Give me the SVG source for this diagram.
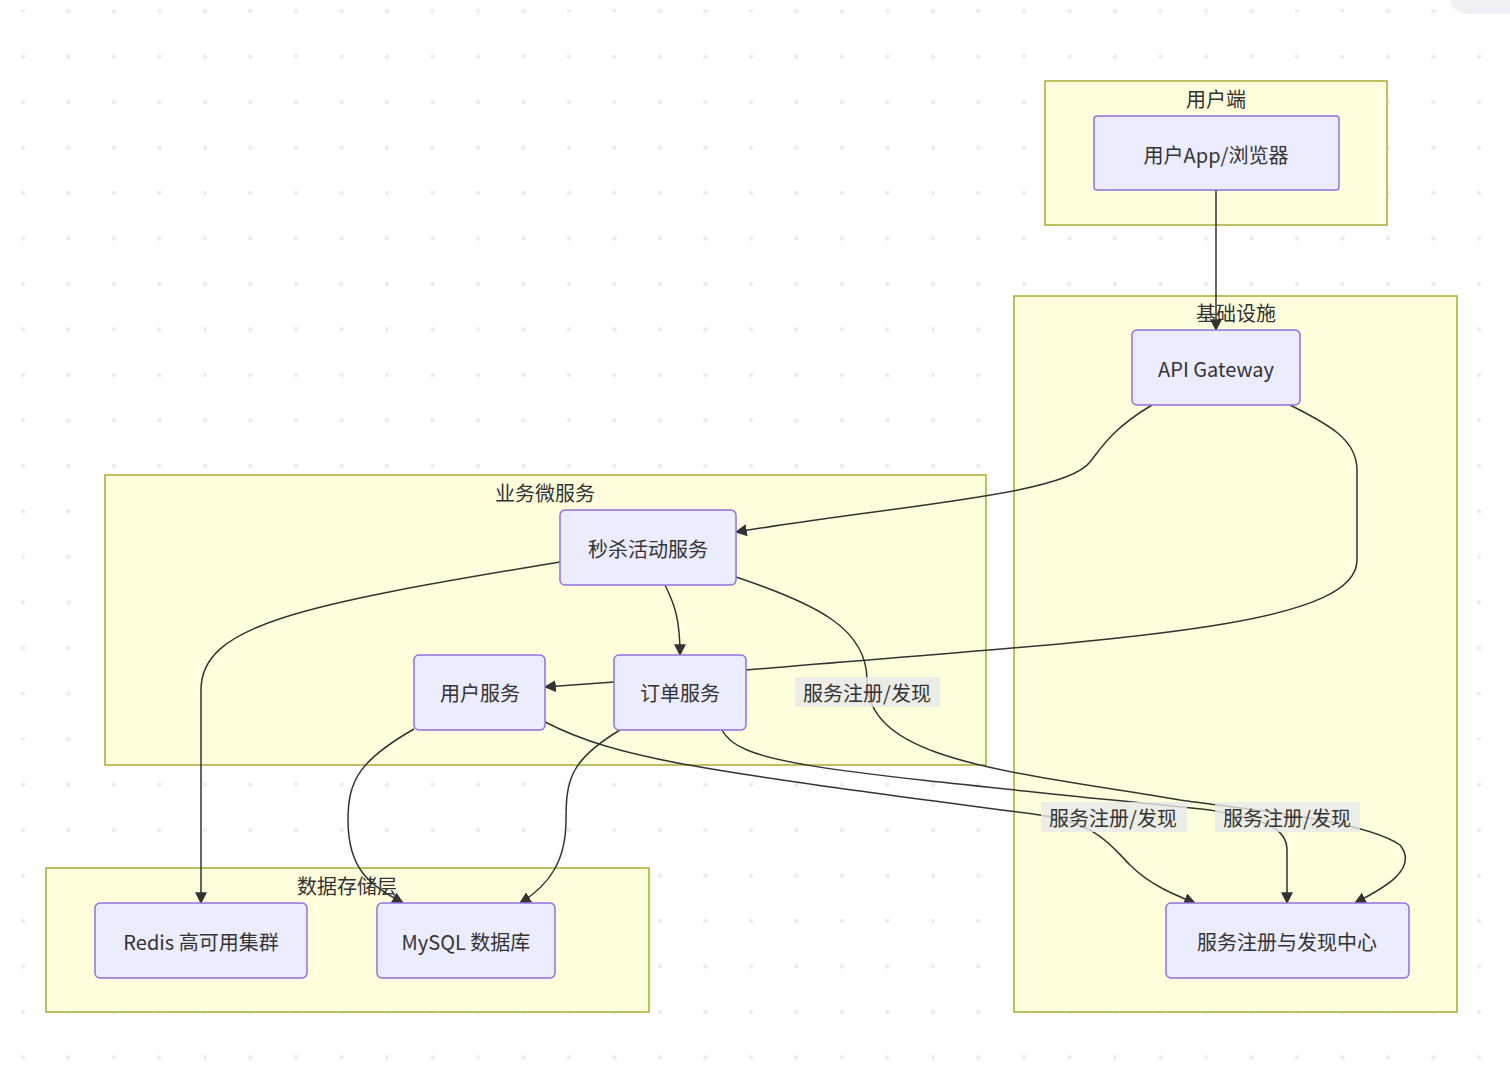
<svg xmlns="http://www.w3.org/2000/svg" width="1510" height="1065" viewBox="0 0 1510 1065">
<defs>
<pattern id="dots" width="45.5" height="45.5" patternUnits="userSpaceOnUse" x="0" y="-11"><rect x="21" y="20" width="4" height="4" fill="#ececf0"/></pattern>
<marker id="ar" viewBox="0 0 10 10" refX="9" refY="5" markerWidth="8" markerHeight="8" orient="auto-start-reverse"><path d="M0,0L10,5L0,10z" fill="#333"/></marker>
<style>
.cl{fill:#ffffde;stroke:#aaaa33;stroke-width:1.5}
.nd{fill:#ececff;stroke:#9370db;stroke-width:1.5}
text{font-family:"Noto Sans CJK SC","Noto Sans",sans-serif;font-size:20px;fill:#333;text-anchor:middle;dominant-baseline:central}
.e{fill:none;stroke:#333;stroke-width:1.5;marker-end:url(#ar)}
.lb{fill:#e8e8e8;opacity:0.8}
</style>
</defs>
<rect width="1510" height="1065" fill="#fff"/>
<rect width="1510" height="1065" fill="url(#dots)"/>
<path d="M1450,0h60v14h-40a20,14 0 0 1 -20,-14z" fill="#f0f0f4"/>
<g id="cluster-user"><rect class="cl" x="1045" y="81" width="342" height="144"/><text x="1216" y="98">用户端</text></g>
<g id="cluster-infra"><rect class="cl" x="1014" y="296" width="443" height="716"/><text x="1236" y="312">基础设施</text></g>
<g id="cluster-biz"><rect class="cl" x="105" y="475" width="881" height="290"/><text x="545" y="492">业务微服务</text></g>
<g id="cluster-data"><rect class="cl" x="46" y="868" width="603" height="144"/><text x="347" y="885">数据存储层</text></g>
<g id="connectors">
<path class="e" d="M1216,190V330"/>
<path class="e" d="M1152,405C1110,430 1100,450 1090,462C1065,495 900,505 736,532"/>
<path class="e" d="M1290,405C1330,425 1357,440 1357,470V560C1357,630 1100,640 746,670L614,682L545,687"/>
<path class="e" d="M665,585C675,605 680,620 680,655"/>
<path class="e" d="M560,562C300,605 201,625 201,690V903"/>
<path class="e" d="M736,577C820,605 867,630 867,680C867,760 1000,770 1180,800C1250,810 1363,820 1400,845C1420,870 1380,890 1355,903"/>
<path class="e" d="M545,722C620,760 700,770 1040,815C1100,825 1110,845 1130,865C1150,885 1175,895 1195,903"/>
<path class="e" d="M722,730C740,765 820,770 1210,810C1270,820 1287,830 1287,850V903"/>
<path class="e" d="M414,729C360,760 348,780 348,820C348,870 370,885 403,903"/>
<path class="e" d="M620,730C570,760 566,780 566,820C566,860 550,885 520,903"/>
</g>
<g id="edge-labels">
<rect class="lb" x="795" y="677" width="145" height="30"/><text x="867" y="692">服务注册/发现</text>
<rect class="lb" x="1041" y="802" width="146" height="30"/><text x="1113" y="817">服务注册/发现</text>
<rect class="lb" x="1215" y="802" width="145" height="30"/><text x="1287" y="817">服务注册/发现</text>
</g>
<g id="n-app"><rect class="nd" x="1094" y="116" width="245" height="74" rx="3"/><text x="1216" y="154">用户App/浏览器</text></g>
<g id="n-gw"><rect class="nd" x="1132" y="330" width="168" height="75" rx="5"/><text x="1216" y="368">API Gateway</text></g>
<g id="n-seckill"><rect class="nd" x="560" y="510" width="176" height="75" rx="5"/><text x="648" y="548">秒杀活动服务</text></g>
<g id="n-usersvc"><rect class="nd" x="414" y="655" width="131" height="75" rx="5"/><text x="480" y="692">用户服务</text></g>
<g id="n-order"><rect class="nd" x="614" y="655" width="132" height="75" rx="5"/><text x="680" y="692">订单服务</text></g>
<g id="n-redis"><rect class="nd" x="95" y="903" width="212" height="75" rx="5"/><text x="201" y="941">Redis 高可用集群</text></g>
<g id="n-mysql"><rect class="nd" x="377" y="903" width="178" height="75" rx="5"/><text x="466" y="941">MySQL 数据库</text></g>
<g id="n-registry"><rect class="nd" x="1166" y="903" width="243" height="75" rx="5"/><text x="1287" y="941">服务注册与发现中心</text></g>
</svg>
